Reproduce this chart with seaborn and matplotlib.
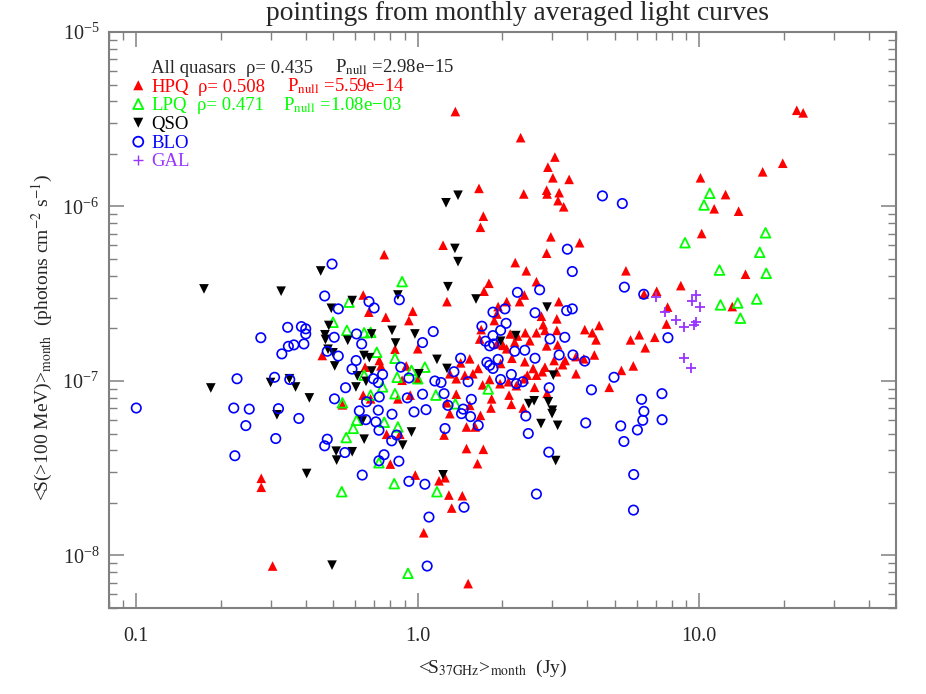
import numpy as np
import pandas as pd
import matplotlib
matplotlib.use("Agg")
import matplotlib.pyplot as plt
import seaborn as sns
from matplotlib.ticker import LogLocator, NullFormatter

# monthly averaged 37 GHz flux (Jy) and gamma flux in units of 1e-7 ph cm^-2 s^-1
hpq_s37 = [1.36, 2.32, 3.07, 2.90, 3.02, 3.45, 1.65, 2.38, 2.87, 2.88,
           3.18, 3.15, 3.30, 1.71, 1.67, 2.97, 3.76, 1.23, 2.87, 0.76,
           2.22, 22.2, 23.4, 19.8, 16.8, 10.1, 12.4, 11.3, 13.8, 10.2,
           5.49, 14.6, 8.6, 7.06, 6.37, 7.72, 13.1, 7.65, 3.92, 4.41,
           4.17, 4.30, 5.70, 6.12, 6.95, 6.43, 4.24, 3.89, 5.83, 5.29,
           4.79, 0.458, 0.278, 0.278, 0.305, 0.775, 0.864, 0.799, 0.98, 1.19,
           1.25, 1.24, 1.49, 1.71, 1.63, 1.29, 1.44, 1.32, 1.05, 1.51,
           2.43, 1.79, 2.64, 1.72, 1.27, 0.64, 2.39, 2.30, 3.17, 1.93,
           2.07, 0.96, 0.67, 0.93, 0.77, 1.91, 1.87, 2.75, 3.12, 1.68,
           2.79, 2.83, 2.41, 2.64, 3.12, 2.13, 2.26, 1.66, 1.91, 2.01,
           2.07, 2.21, 2.50, 3.14, 2.87, 1.00, 0.83, 0.73, 0.65, 0.74,
           0.91, 1.53, 1.42, 1.64, 1.57, 1.97, 2.16, 2.40, 2.57, 2.83,
           3.05, 3.34, 3.27, 3.65, 3.11, 3.65, 2.77, 2.64, 2.45, 1.30,
           1.37, 1.47, 1.70, 1.80, 1.96, 2.10, 2.24, 2.60, 2.39, 2.88,
           2.11, 1.83, 2.15, 1.82, 2.37, 1.37, 1.53, 1.27, 0.54, 0.64,
           0.68, 0.85, 0.94, 1.00, 0.88, 1.67, 1.49, 1.60, 1.30]
hpq_sgam = [35.0, 24.8, 19.2, 16.8, 14.6, 14.3, 12.7, 11.8, 12.4, 11.8,
            12.0, 10.8, 9.96, 8.8, 7.6, 6.7, 6.2, 6.0, 5.4, 5.3,
            4.77, 35.6, 34.4, 17.7, 15.8, 14.6, 11.7, 9.7, 9.4, 7.0,
            4.28, 4.09, 3.52, 3.27, 3.15, 2.65, 2.67, 2.12, 1.97, 2.08,
            1.89, 1.72, 1.72, 1.84, 1.78, 1.55, 1.41, 1.34, 1.22, 1.15,
            0.92, 1.40, 0.277, 0.246, 0.087, 0.495, 0.495, 0.334, 0.289, 0.268,
            0.279, 0.49, 0.41, 0.406, 0.336, 0.222, 0.22, 0.187, 0.135, 0.069,
            4.28, 3.63, 3.71, 3.27, 2.85, 3.11, 3.11, 2.85, 2.85, 2.67,
            2.85, 2.51, 2.48, 2.22, 2.32, 2.42, 2.22, 2.35, 2.27, 1.97,
            2.10, 1.95, 1.89, 1.89, 1.95, 1.86, 1.81, 1.74, 1.63, 1.60,
            1.53, 1.67, 1.70, 1.61, 1.59, 1.53, 1.52, 1.31, 1.20, 1.22,
            1.22, 1.34, 1.27, 1.18, 1.10, 1.26, 1.35, 1.29, 1.18, 1.20,
            1.31, 1.31, 1.24, 1.38, 1.13, 1.10, 1.13, 1.08, 1.08, 1.10,
            1.03, 1.08, 0.95, 1.02, 0.965, 0.99, 0.94, 0.92, 1.03, 0.85,
            0.83, 0.79, 0.735, 0.70, 0.70, 0.84, 0.725, 0.75, 0.73, 0.83,
            0.79, 0.79, 0.83, 1.03, 1.01, 0.635, 0.545, 0.545, 0.65]

lpq_s37 = [10.9, 10.4, 17.2, 8.9, 16.4, 11.8, 17.3, 11.9, 13.7, 16.0,
           14.0, 0.50, 0.557, 0.728, 0.825, 0.537, 1.17, 0.923, 0.59, 0.85,
           0.88, 0.57, 0.56, 0.645, 0.68, 0.715, 0.83, 1.06, 0.95, 1.00,
           0.845, 0.645, 0.75, 0.83, 1.16, 1.78, 1.36, 0.54, 0.68, 0.606,
           0.76]
lpq_sgam = [11.9, 10.2, 7.07, 6.2, 5.46, 4.32, 4.14, 2.73, 2.80, 2.95,
            2.29, 2.17, 0.474, 0.34, 0.258, 0.232, 0.232, 0.079, 0.535, 0.545,
            3.71, 2.83, 1.95, 1.89, 1.90, 1.46, 1.35, 1.20, 1.15, 1.03,
            1.05, 1.08, 0.925, 0.845, 0.83, 0.90, 0.74, 0.75, 0.83, 0.595,
            0.58]

qso_s37 = [1.39, 1.26, 1.355, 1.39, 0.174, 0.327, 0.452, 0.493, 0.483, 0.468,
           0.47, 0.48, 0.50, 0.507, 0.184, 0.30, 0.35, 0.368, 0.412, 0.316,
           0.513, 0.515, 0.403, 0.496, 0.645, 0.585, 0.884, 0.95, 1.23, 3.09,
           3.14, 1.28, 1.61, 0.85, 0.585, 2.88, 0.81, 0.977, 0.686, 0.564,
           0.834, 2.23, 1.97, 0.644, 0.673, 1.17, 1.27, 1.01, 0.686, 0.61,
           0.655, 0.603, 3.03, 2.48, 2.59, 2.91, 3.01, 3.00, 2.74, 0.635]
qso_sgam = [11.6, 10.5, 5.75, 4.83, 3.37, 3.27, 4.27, 2.61, 2.08, 1.84,
            1.73, 1.52, 1.45, 1.22, 0.912, 0.98, 1.03, 0.924, 0.80, 0.64,
            0.396, 0.352, 0.295, 0.088, 0.464, 0.393, 0.429, 0.51, 0.29, 0.35,
            0.557, 3.47, 2.95, 3.11, 2.89, 2.65, 1.95, 1.86, 1.86, 1.71,
            1.65, 1.82, 1.69, 1.40, 1.36, 1.33, 1.18, 1.10, 1.14, 1.07,
            0.995, 0.924, 1.08, 0.742, 0.77, 0.76, 0.68, 0.65, 0.57, 0.59]

blo_s37 = [3.40, 4.53, 5.33, 5.42, 6.35, 7.74, 3.92, 4.98, 4.14, 7.37,
           6.24, 6.36, 6.30, 7.38, 3.95, 5.26, 6.03, 5.40, 5.85, 5.84,
           0.496, 0.467, 0.522, 0.345, 0.386, 0.40, 0.40, 0.277, 0.505, 0.347,
           0.363, 0.394, 0.329, 0.477, 0.522, 0.228, 0.31, 0.351, 0.10, 0.222,
           0.252, 0.32, 0.506, 0.378, 0.245, 0.313, 0.224, 0.477, 0.467, 0.728,
           0.808, 0.841, 0.759, 0.728, 0.857, 0.635, 0.551, 0.93, 1.06, 1.46,
           1.096, 1.08, 2.64, 2.47, 2.92, 1.25, 3.54, 2.26, 2.71, 0.86,
           0.671, 0.70, 1.85, 2.04, 2.61, 3.38, 3.54, 2.06, 1.69, 1.135,
           0.606, 0.632, 1.97, 1.85, 1.74, 1.80, 1.86, 2.95, 3.33, 1.04,
           2.21, 2.40, 0.604, 0.584, 1.42, 1.76, 1.93, 1.80, 1.85, 2.61,
           3.18, 3.56, 0.87, 0.75, 0.695, 0.724, 0.93, 1.15, 1.21, 1.345,
           1.51, 1.97, 2.15, 2.24, 2.36, 2.93, 0.554, 0.658, 0.73, 0.918,
           1.04, 1.24, 1.55, 1.28, 1.45, 1.43, 1.54, 1.64, 0.62, 0.724,
           0.81, 0.97, 1.07, 0.654, 0.71, 2.42]
blo_sgam = [5.69, 11.5, 10.4, 3.45, 3.14, 1.77, 1.30, 1.05, 0.89, 0.846,
            0.785, 0.67, 0.595, 0.60, 0.575, 0.553, 0.524, 0.45, 0.291, 0.182,
            4.68, 3.07, 2.59, 2.03, 2.05, 1.99, 1.86, 1.77, 1.78, 1.58,
            1.61, 1.63, 1.43, 1.48, 1.39, 1.03, 1.05, 1.02, 0.70, 0.70,
            0.69, 0.694, 0.79, 0.61, 0.555, 0.468, 0.373, 0.464, 0.425, 0.522,
            0.454, 0.49, 0.378, 0.349, 0.347, 0.289, 0.389, 0.266, 0.256, 0.189,
            0.166, 0.087, 0.225, 0.50, 0.391, 0.534, 4.24, 3.22, 3.33, 2.92,
            2.85, 2.62, 2.48, 2.59, 2.46, 2.53, 2.59, 2.14, 2.06, 1.92,
            1.86, 1.63, 1.95, 1.82, 1.69, 1.59, 1.63, 1.74, 1.78, 1.66,
            1.48, 1.50, 1.31, 1.17, 1.35, 1.28, 1.33, 1.23, 1.18, 1.35,
            1.41, 1.41, 1.20, 1.09, 1.03, 0.98, 1.04, 1.00, 0.98, 1.13,
            0.99, 1.02, 1.09, 0.965, 0.99, 0.915, 0.915, 0.76, 0.81, 0.80,
            0.84, 0.846, 0.785, 0.725, 0.69, 0.65, 0.625, 0.557, 0.674, 0.68,
            0.645, 0.665, 0.685, 0.60, 0.583, 0.63]

gal_s37 = [9.76, 9.45, 10.05, 7.56, 7.03, 8.3, 8.85, 9.71, 9.6, 8.83, 9.37]
gal_sgam = [3.13, 2.89, 2.65, 2.50, 3.02, 2.24, 2.05, 2.17, 2.08, 1.35, 1.19]

classes = ["HPQ", "LPQ", "QSO", "BLO", "GAL"]
colors = {"HPQ": "#ff0000", "LPQ": "#00ff00", "QSO": "#000000",
          "BLO": "#0000ff", "GAL": "#9933ff"}

frames = []
for cls, xs, ys in [("HPQ", hpq_s37, hpq_sgam), ("LPQ", lpq_s37, lpq_sgam),
                    ("QSO", qso_s37, qso_sgam), ("BLO", blo_s37, blo_sgam),
                    ("GAL", gal_s37, gal_sgam)]:
    frames.append(pd.DataFrame({"s37": xs, "sgam": np.array(ys) * 1e-7, "cls": cls}))
df = pd.concat(frames, ignore_index=True)

sns.set_style("ticks")
plt.rcParams["font.family"] = ["Liberation Serif", "DejaVu Serif"]
plt.rcParams["mathtext.fontset"] = "stix"

fig = plt.figure(figsize=(9.26, 6.94), dpi=100)
ax = fig.add_axes([0.1177, 0.1239, 0.8499, 0.830])

styles = {
    "HPQ": dict(marker="^", s=48, edgecolor="none"),
    "LPQ": dict(marker="^", s=48, facecolor="none", edgecolor="#00ff00", linewidth=1.3),
    "QSO": dict(marker="v", s=48, edgecolor="none"),
    "BLO": dict(marker="o", s=46, facecolor="none", edgecolor="#0000ff", linewidth=1.2),
    "GAL": dict(marker="+", s=56, linewidth=1.3),
}
for cls in classes:
    sub = df[df["cls"] == cls]
    sns.scatterplot(data=sub, x="s37", y="sgam", color=colors[cls], ax=ax,
                    legend=False, **styles[cls])

ax.set_xscale("log")
ax.set_yscale("log")
ax.set_xlim(0.08, 50)
ax.set_ylim(5e-9, 1e-5)

ax.set_xticks([0.1, 1, 10])
ax.set_xticklabels(["0.1", "1.0", "10.0"])
ax.xaxis.set_minor_locator(LogLocator(base=10, subs=np.arange(2, 10) * 1.0, numticks=20))
ax.xaxis.set_minor_formatter(NullFormatter())
ax.set_yticks([1e-8, 1e-7, 1e-6, 1e-5])
ax.yaxis.set_minor_locator(LogLocator(base=10, subs=np.arange(2, 10) * 1.0, numticks=20))
ax.yaxis.set_minor_formatter(NullFormatter())

for sp in ax.spines.values():
    sp.set_color("#808080")
    sp.set_linewidth(1.5)
ax.tick_params(which="major", direction="in", length=11, width=1.1, color="#808080",
               top=True, right=True, labelsize=14.5, pad=14)
ax.tick_params(which="minor", direction="in", length=5.5, width=1.0, color="#808080",
               top=True, right=True)
ax.tick_params(axis="y", which="major", pad=7)

ax.set_xlabel(r"<S$_{\rm 37GHz}$>$_{\rm month}$  (Jy)", fontsize=14)
ax.xaxis.set_label_coords(0.487, -0.086)
ax.set_ylabel(r"<S(>100 MeV)>$_{\rm month}$  (photons cm$^{-2}$ s$^{-1}$)", fontsize=14)
ax.yaxis.set_label_coords(-0.069, 0.47)

fig.text(0.559, 0.980, "pointings from monthly averaged light curves",
         fontsize=19.8, ha="center", va="center")

# legend block drawn by hand
rows_y = [0.9403, 0.9075, 0.875, 0.8425, 0.8095, 0.778]
base_dy = 0.0109
ax.text(0.0534, rows_y[0] - base_dy, "All quasars", transform=ax.transAxes, fontsize=13.5, va="baseline")
ax.text(0.1737, rows_y[0] - base_dy, "ρ= 0.435", transform=ax.transAxes, fontsize=13.5, va="baseline")
ax.text(0.2872, rows_y[0] - base_dy, r"P$_{\rm null}$ =2.98e−15", transform=ax.transAxes,
        fontsize=13.5, va="baseline")

legend_rows = [
    ("HPQ", "^", True, "ρ= 0.508", r"P$_{\rm null}$ =5.59e−14", 0.1135, 0.2258),
    ("LPQ", "^", False, "ρ= 0.471", r"P$_{\rm null}$ =1.08e−03", 0.1122, 0.2214),
    ("QSO", "v", True, None, None, 0, 0),
    ("BLO", "o", False, None, None, 0, 0),
    ("GAL", "+", False, None, None, 0, 0),
]
for i, (cls, mk, filled, rho, pnull, xr, xp) in enumerate(legend_rows):
    yy = rows_y[i + 1]
    c = colors[cls]
    if mk == "+":
        ax.scatter([0.0372], [yy], marker=mk, s=60, color=c, linewidths=1.0,
                   transform=ax.transAxes, clip_on=False)
    elif filled:
        ax.scatter([0.0372], [yy], marker=mk, s=52, color=c, edgecolors="none",
                   transform=ax.transAxes, clip_on=False)
    else:
        ax.scatter([0.0372], [yy], marker=mk, s=52, facecolors="none", edgecolors=c,
                   linewidths=1.3, transform=ax.transAxes, clip_on=False)
    ax.text(0.0534, yy - base_dy, cls, color=c, transform=ax.transAxes, fontsize=13.5, va="baseline")
    if rho:
        ax.text(xr, yy - base_dy, rho, color=c, transform=ax.transAxes, fontsize=13.5, va="baseline")
        ax.text(xp, yy - base_dy, pnull, color=c, transform=ax.transAxes, fontsize=13.5, va="baseline")

fig.savefig("out.png", dpi=100)
